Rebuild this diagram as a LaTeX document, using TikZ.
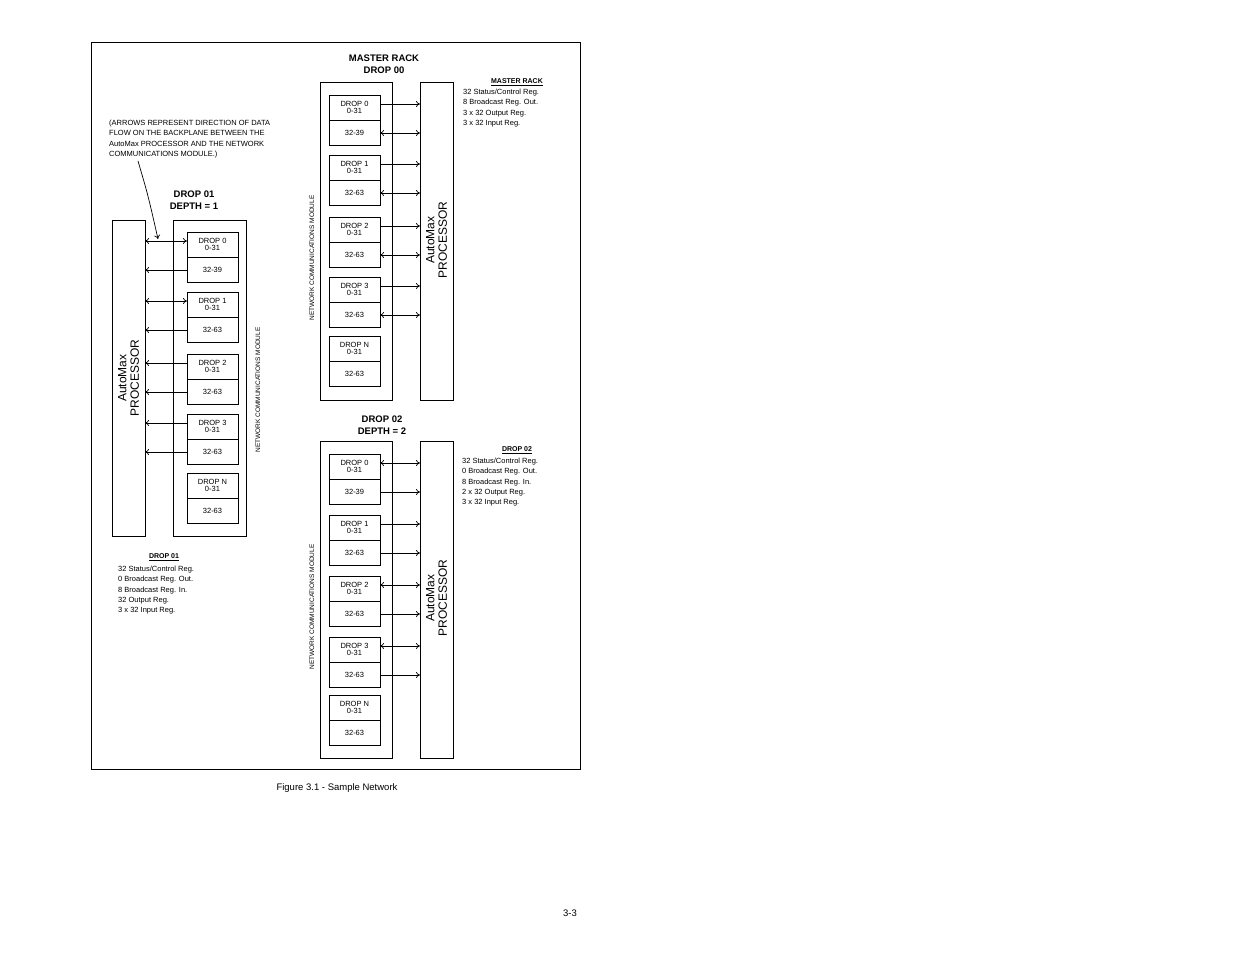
\documentclass[tikz,border=0pt]{standalone}
\usepackage{fontspec}
\setmainfont{Liberation Sans}
\usetikzlibrary{arrows.meta}
\begin{document}
\begin{tikzpicture}[x=1pt,y=-1pt,
  box/.style={draw,line width=0.8pt},
  sm/.style={font=\fontsize{7.5}{8}\selectfont,inner sep=0pt},
  ttl/.style={font=\bfseries\fontsize{9.5}{11.5}\selectfont,align=center,inner sep=0pt},
  note/.style={font=\fontsize{7.5}{10.2}\selectfont,align=left,anchor=north west,inner sep=0pt},
  proclab/.style={font=\fontsize{12}{12.5}\selectfont,align=center,rotate=90,inner sep=0pt},
  ncmlab/.style={font=\fontsize{6.5}{7}\selectfont,rotate=90,inner sep=0pt},
  ar/.style={line width=0.7pt},
  >={To[length=4pt,width=6pt]}]
\useasboundingbox (0,0) rectangle (1235,954);
\draw[line width=0.9pt] (91,42) rectangle (580,769);
% drop box macro
\newcommand{\dropbox}[6]{% name, x, ytop, title, range2
  \draw[box] (#2,#3) rectangle ++(51,50);
  \draw[box] (#2,#3+25) -- ++(51,0);
  \node[sm,align=center] (#1) at (#2+25.5,#3+12.5) {#4\\[-1pt]0-31};
  \node[sm] (#1b) at (#2+25.5,#3+38) {#5};
  \coordinate (#1u) at (#2,#3+9); \coordinate (#1l) at (#2,#3+38);
  \coordinate (#1ur) at (#2+51,#3+9); \coordinate (#1lr) at (#2+51,#3+38);
}
% ---------- DROP 01 (left)
\draw[box] (112,220) rectangle (145,536); \node[proclab] (P1) at (128.5,378) {AutoMax\\PROCESSOR};
\draw[box] (173,220) rectangle (246,536); \coordinate (P1e) at (145,0);
\node[ncmlab] (N1) at (258,390) {NETWORK COMMUNICATIONS MODULE};
\dropbox{a0}{187}{232}{DROP 0}{32-39}{}
\dropbox{a1}{187}{292}{DROP 1}{32-63}{}
\dropbox{a2}{187}{354}{DROP 2}{32-63}{}
\dropbox{a3}{187}{414}{DROP 3}{32-63}{}
\dropbox{aN}{187}{473}{DROP N}{32-63}{}
\draw[ar,<->] (P1e |- a0u) -- (a0u); \draw[ar,<-] (P1e |- a0l) -- (a0l);
\draw[ar,<->] (P1e |- a1u) -- (a1u); \draw[ar,<-] (P1e |- a1l) -- (a1l);
\draw[ar,<-] (P1e |- a2u) -- (a2u); \draw[ar,<-] (P1e |- a2l) -- (a2l);
\draw[ar,<-] (P1e |- a3u) -- (a3u); \draw[ar,<-] (P1e |- a3l) -- (a3l);
\node[ttl] (t1) at (194,200) {DROP 01\\DEPTH = 1};
\node[note] (ann) at (109,120) {(ARROWS REPRESENT  DIRECTION OF DATA\\FLOW ON THE BACKPLANE BETWEEN THE\\AutoMax PROCESSOR AND THE NETWORK\\COMMUNICATIONS MODULE.)};
\coordinate (annend) at (158,239);
\draw[line width=0.7pt,->] (138,161) .. controls (148,195) .. (annend);
\node[sm,font=\bfseries\fontsize{7}{8}\selectfont] (h1) at (164,557) {\underline{DROP 01}};
\node[note] (n1) at (118,566) {32 Status/Control Reg.\\0 Broadcast Reg. Out.\\8 Broadcast Reg. In.\\32 Output Reg.\\3 x 32 Input Reg.};
% ---------- MASTER
\draw[box] (320,82) rectangle (392,400);
\draw[box] (420,82) rectangle (453,400); \node[proclab] (P0) at (436.5,240) {AutoMax\\PROCESSOR};
\coordinate (P0w) at (420,0);
\node[ncmlab] (N0) at (312,258) {NETWORK COMMUNICATIONS MODULE};
\dropbox{m0}{329}{95}{DROP 0}{32-39}{}
\dropbox{m1}{329}{155}{DROP 1}{32-63}{}
\dropbox{m2}{329}{217}{DROP 2}{32-63}{}
\dropbox{m3}{329}{277}{DROP 3}{32-63}{}
\dropbox{mN}{329}{336}{DROP N}{32-63}{}
\foreach \m in {m0,m1,m2,m3}{
  \draw[ar,->] (\m ur) -- (P0w |- \m ur);
  \draw[ar,<->] (\m lr) -- (P0w |- \m lr);}
\node[ttl] (t0) at (384,64) {MASTER RACK\\DROP 00};
\node[sm,font=\bfseries\fontsize{7}{8}\selectfont] (h0) at (517,82) {\underline{MASTER RACK}};
\node[note] (n0) at (463,89) {32 Status/Control Reg.\\8 Broadcast Reg. Out.\\3 x 32 Output Reg.\\3 x 32 Input Reg.};
% ---------- DROP 02
\draw[box] (320,441) rectangle (392,758);
\draw[box] (420,441) rectangle (453,758); \node[proclab] (P2) at (436.5,598) {AutoMax\\PROCESSOR};
\node[ncmlab] (N2) at (312,607) {NETWORK COMMUNICATIONS MODULE};
\dropbox{b0}{329}{454}{DROP 0}{32-39}{}
\dropbox{b1}{329}{515}{DROP 1}{32-63}{}
\dropbox{b2}{329}{576}{DROP 2}{32-63}{}
\dropbox{b3}{329}{637}{DROP 3}{32-63}{}
\dropbox{bN}{329}{695}{DROP N}{32-63}{}
\draw[ar,<->] (b0ur) -- (P0w |- b0ur); \draw[ar,->] (b0lr) -- (P0w |- b0lr);
\draw[ar,->] (b1ur) -- (P0w |- b1ur); \draw[ar,->] (b1lr) -- (P0w |- b1lr);
\draw[ar,<->] (b2ur) -- (P0w |- b2ur); \draw[ar,->] (b2lr) -- (P0w |- b2lr);
\draw[ar,<->] (b3ur) -- (P0w |- b3ur); \draw[ar,->] (b3lr) -- (P0w |- b3lr);
\node[ttl] (t2) at (382,425) {DROP 02\\DEPTH = 2};
\node[sm,font=\bfseries\fontsize{7}{8}\selectfont] (h2) at (517,450) {\underline{DROP 02}};
\node[note] (n2) at (462,458) {32 Status/Control Reg.\\0 Broadcast Reg. Out.\\8 Broadcast Reg. In.\\2 x 32 Output Reg.\\3 x 32 Input Reg.};
% captions
\node[font=\fontsize{9.5}{11}\selectfont,inner sep=0pt] (cap) at (337,788) {Figure 3.1 - Sample Network};
\node[font=\fontsize{9.5}{11}\selectfont,inner sep=0pt] (pg) at (570,913) {3-3};
\end{tikzpicture}
\end{document}
